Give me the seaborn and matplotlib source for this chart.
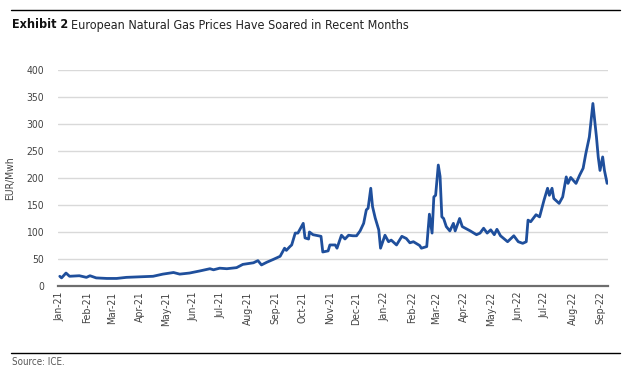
import pandas as pd
import matplotlib
matplotlib.use("Agg")
import matplotlib.pyplot as plt
import matplotlib.dates as mdates
from matplotlib.lines import Line2D
import seaborn as sns

# price series (EUR/MWh)
dates = [
    "2021-01-01", "2021-01-03", "2021-01-08", "2021-01-12", "2021-01-23", "2021-01-31",
    "2021-02-04", "2021-02-11", "2021-02-23", "2021-03-06", "2021-03-17", "2021-04-01",
    "2021-04-16", "2021-04-27", "2021-05-09", "2021-05-16", "2021-05-27", "2021-06-08",
    "2021-06-19", "2021-06-23", "2021-06-30", "2021-07-08", "2021-07-19", "2021-07-26",
    "2021-08-07", "2021-08-12", "2021-08-16", "2021-08-22", "2021-08-29", "2021-09-06",
    "2021-09-11", "2021-09-13", "2021-09-17", "2021-09-19", "2021-09-23", "2021-09-26",
    "2021-10-02", "2021-10-04", "2021-10-08", "2021-10-09", "2021-10-13", "2021-10-22",
    "2021-10-24", "2021-10-30", "2021-11-01", "2021-11-07", "2021-11-09", "2021-11-14",
    "2021-11-18", "2021-11-22", "2021-11-27", "2021-12-01", "2021-12-05", "2021-12-09",
    "2021-12-12", "2021-12-14", "2021-12-17", "2021-12-19", "2021-12-22", "2021-12-26",
    "2021-12-28", "2022-01-02", "2022-01-06", "2022-01-09", "2022-01-15", "2022-01-21",
    "2022-01-26", "2022-01-30", "2022-02-03", "2022-02-10", "2022-02-12", "2022-02-18",
    "2022-02-21", "2022-02-24", "2022-02-26", "2022-02-28", "2022-03-03", "2022-03-05",
    "2022-03-07", "2022-03-09", "2022-03-12", "2022-03-16", "2022-03-20", "2022-03-22",
    "2022-03-27", "2022-03-30", "2022-04-08", "2022-04-15", "2022-04-19", "2022-04-23",
    "2022-04-27", "2022-05-01", "2022-05-05", "2022-05-08", "2022-05-12", "2022-05-20",
    "2022-05-27", "2022-06-01", "2022-06-06", "2022-06-10", "2022-06-12", "2022-06-15",
    "2022-06-21", "2022-06-25", "2022-06-30", "2022-07-04", "2022-07-06", "2022-07-09",
    "2022-07-11", "2022-07-17", "2022-07-21", "2022-07-25", "2022-07-27", "2022-07-30",
    "2022-08-05", "2022-08-09", "2022-08-13", "2022-08-16", "2022-08-20", "2022-08-24",
    "2022-08-28", "2022-08-30", "2022-09-01", "2022-09-04", "2022-09-06", "2022-09-09",
]
prices = [
    18, 15, 24, 18, 19, 16,
    19, 15, 14, 14, 16, 17,
    18, 22, 25, 22, 24, 28,
    32, 30, 33, 32, 34, 40,
    43, 47, 39, 44, 49, 55,
    70, 66, 73, 76, 98, 98,
    116, 89, 87, 100, 95, 92,
    63, 65, 76, 76, 70, 94,
    87, 94, 93, 93, 102, 116,
    141, 144, 181, 147, 126, 104,
    70, 94, 82, 85, 76, 92,
    88, 80, 82, 75, 70, 73,
    133, 98, 165, 168, 224, 203,
    128, 125, 110, 102, 116, 102,
    125, 110, 102, 95, 98, 107,
    98, 104, 95, 105, 93, 82,
    93, 82, 79, 82, 122, 119,
    132, 128, 159, 181, 168, 181,
    162, 153, 165, 202, 190, 201,
    190, 205, 218, 245, 276, 338,
    276, 239, 214, 239, 214, 190,
]
y_ticks = [0, 50, 100, 150, 200, 250, 300, 350, 400]

df = pd.DataFrame({"date": pd.to_datetime(dates), "price": prices})

sns.set_style("white")
plt.rcParams["font.family"] = ["DejaVu Sans"]
plt.rcParams["font.stretch"] = "condensed"

fig = plt.figure(figsize=(6.27, 3.75), dpi=100)
ax = fig.add_axes([58 / 627, 1 - 286 / 375, 550 / 627, 216 / 375])

sns.lineplot(data=df, x="date", y="price", ax=ax, color="#1f4f9c", linewidth=2)

ax.set_ylim(0, 400)
ax.set_yticks(y_ticks)
ax.set_xlim(pd.Timestamp("2020-12-30"), pd.Timestamp("2022-09-10"))
ax.xaxis.set_major_locator(mdates.MonthLocator())
ax.xaxis.set_major_formatter(mdates.DateFormatter("%b-%y"))
ax.grid(axis="y", color="#d9d9d9", linewidth=1)
ax.set_axisbelow(True)
for s in ["top", "right", "left"]:
    ax.spines[s].set_visible(False)
ax.spines["bottom"].set_color("#6e6e6e")
ax.spines["bottom"].set_linewidth(1.6)
ax.tick_params(axis="both", length=0, labelsize=7.5, labelcolor="#444444")
ax.tick_params(axis="y", pad=10)
ax.tick_params(axis="x", pad=4)
for lbl in ax.get_xticklabels():
    lbl.set_rotation(90)
ax.set_xlabel("")
ax.set_ylabel("EUR/Mwh", fontsize=7.5, color="#444444", labelpad=8)

# header / footer rules
fig.add_artist(Line2D([11 / 627, 620 / 627], [1 - 10 / 375, 1 - 10 / 375], color="black", linewidth=1))
fig.add_artist(Line2D([11 / 627, 620 / 627], [1 - 353 / 375, 1 - 353 / 375], color="black", linewidth=1))

t1 = fig.text(12 / 627, 1 - 25 / 375, "Exhibit 2", fontsize=9, fontweight="bold", va="center", color="#111111")
fig.canvas.draw()
bb = t1.get_window_extent()
fig.text((bb.x1 + 3) / 627, 1 - 25 / 375, "European Natural Gas Prices Have Soared in Recent Months",
         fontsize=9, va="center", color="#222222")
fig.text(12 / 627, 1 - 362 / 375, "Source: ICE.", fontsize=7, va="center", color="#555555")

fig.savefig("out.png", dpi=100)
